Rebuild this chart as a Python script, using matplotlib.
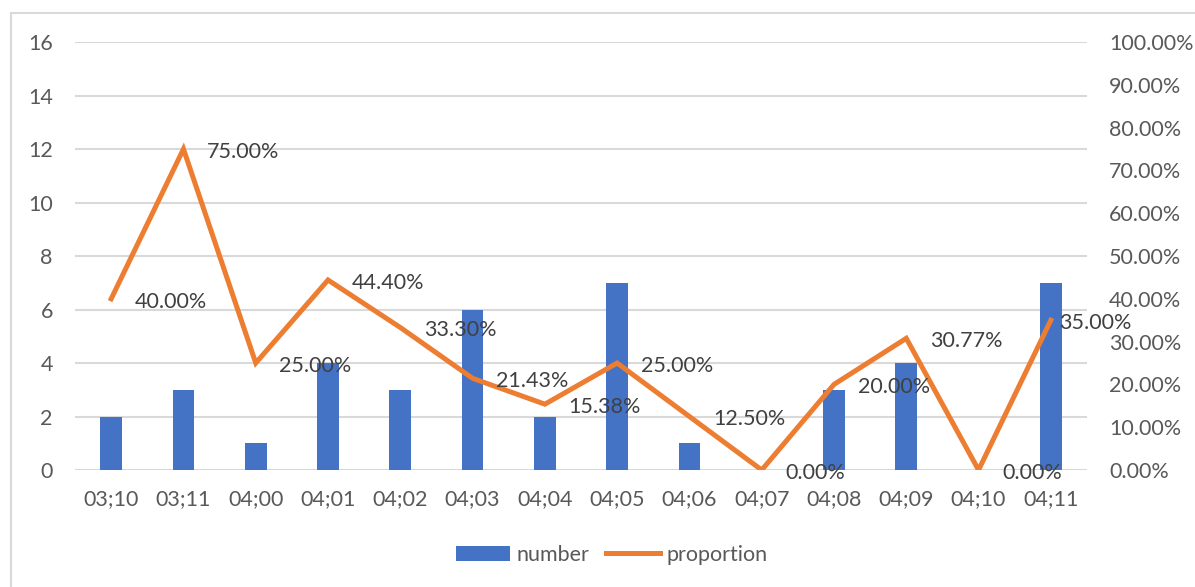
import matplotlib.pyplot as plt
from matplotlib.patches import Rectangle
from matplotlib.ticker import FuncFormatter, MultipleLocator

# data
meses = ['03;10', '03;11', '04;00', '04;01', '04;02', '04;03', '04;04',
         '04;05', '04;06', '04;07', '04;08', '04;09', '04;10', '04;11']
number = [2, 3, 1, 4, 3, 6, 2, 7, 1, 0, 3, 4, 0, 7]
proportion = [0.40, 0.75, 0.25, 0.444, 0.333, 0.2143, 0.1538,
              0.25, 0.125, 0.0, 0.20, 0.3077, 0.0, 0.35]

azul = '#4472C4'
laranja = '#ED7D31'
cinza = '#595959'
fs = 15.5

plt.rcParams['font.family'] = ['Lato', 'DejaVu Sans']

fig = plt.figure(figsize=(11.95, 5.87), dpi=100)
ax = fig.add_axes([0.0628, 0.1993, 0.8468, 0.7291])
ax2 = ax.twinx()

x = list(range(len(meses)))
ax.bar(x, number, width=0.3, color=azul, label='number', zorder=2)
ax2.plot(x, proportion, color=laranja, lw=3.6, label='proportion',
         solid_joinstyle='miter', zorder=3)

# rótulos de dados à direita dos pontos
for i, p in enumerate(proportion):
    dx = 6 if i == len(meses) - 1 else 17
    ax2.annotate(f'{p * 100:.2f}%', (i, p), xytext=(dx, -2),
                 textcoords='offset points', ha='left', va='center',
                 fontsize=fs, color='#404040')

ax.set_xlim(-0.5, len(meses) - 0.5)
ax.set_ylim(0, 16)
ax.yaxis.set_major_locator(MultipleLocator(2))
ax2.set_ylim(0, 1)
ax2.yaxis.set_major_locator(MultipleLocator(0.1))
ax2.yaxis.set_major_formatter(FuncFormatter(lambda v, _: f'{v * 100:.2f}%'))

ax.set_xticks(x)
ax.set_xticklabels(meses)
ax.grid(axis='y', color='#D9D9D9', lw=1.5, zorder=0)
ax.set_axisbelow(True)
for a in (ax, ax2):
    for s in a.spines.values():
        s.set_visible(False)
ax.tick_params(axis='both', length=0, labelsize=fs, labelcolor=cinza)
ax.tick_params(axis='x', pad=14)
ax.tick_params(axis='y', pad=16)
ax2.tick_params(axis='y', length=0, labelsize=fs, labelcolor=cinza, pad=16)

h1, l1 = ax.get_legend_handles_labels()
h2, l2 = ax2.get_legend_handles_labels()
fig.legend(h1 + h2, l1 + l2, loc='center', bbox_to_anchor=(0.512, 0.055),
           ncol=2, frameon=False, fontsize=fs, labelcolor=cinza,
           handlelength=2.5, handletextpad=0.3, columnspacing=0.8)

# moldura do gráfico
fig.patches.append(Rectangle((0.0092, -0.1), 1.2, 1.078, transform=fig.transFigure,
                             fill=False, edgecolor='#D9D9D9', lw=1.5))

plt.savefig('out.png', dpi=100)
plt.close()
